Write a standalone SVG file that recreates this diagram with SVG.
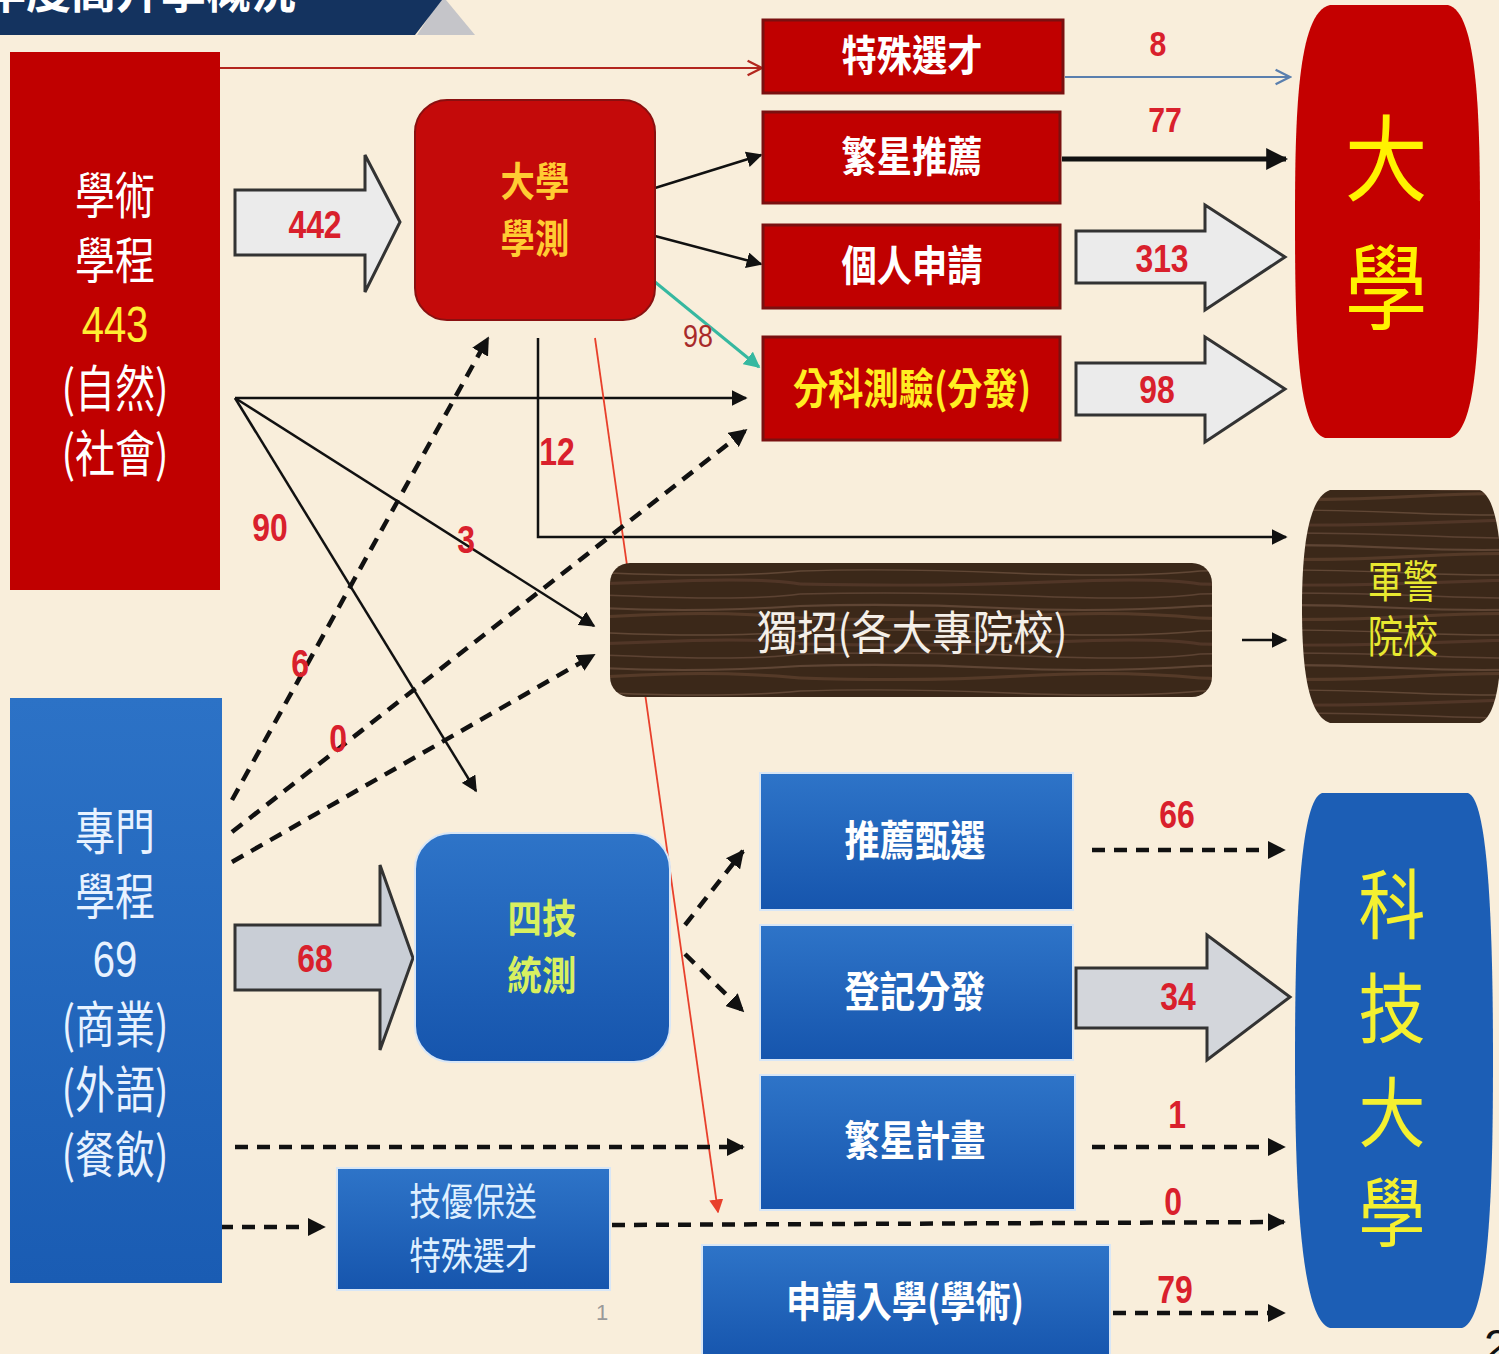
<svg xmlns="http://www.w3.org/2000/svg" width="1499" height="1354" viewBox="0 0 1499 1354">
<style>
.cjk{font-family:"Noto Sans CJK TC","Noto Sans CJK SC",sans-serif;text-anchor:middle}
.num{font-family:"Liberation Sans Narrow","Liberation Sans",sans-serif;font-weight:bold;fill:#d9202c;text-anchor:middle}
.lat{font-family:"Liberation Sans",sans-serif}
.blk{stroke:#111;stroke-width:2.5;fill:none}
.dash{stroke:#111;stroke-width:4.5;stroke-dasharray:13 9;fill:none}
.big{fill:#ebebeb;stroke:#333;stroke-width:3}
.redbox{fill:#c00000;stroke:#7a1010;stroke-width:3}
.bluebox{fill:url(#bg);stroke:#d8e6f6;stroke-width:2}
</style>
<defs>
<linearGradient id="bg" x1="0" y1="0" x2="0" y2="1"><stop offset="0" stop-color="#2e74c8"/><stop offset="1" stop-color="#1655ad"/></linearGradient>
<linearGradient id="bg2" x1="0" y1="0" x2="0" y2="1"><stop offset="0" stop-color="#2c72c6"/><stop offset="1" stop-color="#1a5cb3"/></linearGradient>
<pattern id="wood" width="400" height="60" patternUnits="userSpaceOnUse">
<rect width="400" height="60" fill="#3b2819"/>
<path d="M0 6 Q100 3 200 8 T400 6" stroke="#6e5140" stroke-width="2" fill="none" opacity="0.7"/>
<path d="M0 18 Q120 22 220 16 T400 18" stroke="#5b3f2c" stroke-width="3" fill="none" opacity="0.8"/>
<path d="M0 31 Q90 28 210 33 T400 31" stroke="#7a5b47" stroke-width="1.5" fill="none" opacity="0.6"/>
<path d="M0 44 Q140 47 250 42 T400 44" stroke="#56392a" stroke-width="3" fill="none" opacity="0.8"/>
<path d="M0 54 Q110 51 230 56 T400 54" stroke="#715343" stroke-width="1.5" fill="none" opacity="0.6"/>
</pattern>
<marker id="ab" viewBox="0 0 10 10" refX="9" refY="5" markerWidth="16" markerHeight="16" markerUnits="userSpaceOnUse" orient="auto"><path d="M0 0L10 5L0 10Z" fill="#111"/></marker>
<marker id="abL" viewBox="0 0 10 10" refX="9" refY="5" markerWidth="22" markerHeight="22" markerUnits="userSpaceOnUse" orient="auto"><path d="M0 0L10 5L0 10Z" fill="#111"/></marker>
<marker id="ad" viewBox="0 0 10 10" refX="9" refY="5" markerWidth="18" markerHeight="18" markerUnits="userSpaceOnUse" orient="auto"><path d="M0 0L10 5L0 10Z" fill="#111"/></marker>
<marker id="at" viewBox="0 0 10 10" refX="9" refY="5" markerWidth="16" markerHeight="16" markerUnits="userSpaceOnUse" orient="auto"><path d="M0 0L10 5L0 10Z" fill="#36b8a0"/></marker>
<marker id="ar" viewBox="0 0 10 10" refX="9" refY="5" markerWidth="14" markerHeight="14" markerUnits="userSpaceOnUse" orient="auto"><path d="M0 0L10 5L0 10Z" fill="#e8402c"/></marker>
<marker id="aor" viewBox="0 0 10 10" refX="9" refY="5" markerWidth="18" markerHeight="18" markerUnits="userSpaceOnUse" orient="auto"><path d="M1 1L9 5L1 9" fill="none" stroke="#b3261e" stroke-width="1.3"/></marker>
<marker id="aob" viewBox="0 0 10 10" refX="9" refY="5" markerWidth="18" markerHeight="18" markerUnits="userSpaceOnUse" orient="auto"><path d="M1 1L9 5L1 9" fill="none" stroke="#5a7fae" stroke-width="1.3"/></marker>
</defs>

<rect width="1499" height="1354" fill="#f9eedb"/>

<g id="banner">
<polygon points="417,35 475,35 446,0 440,0" fill="#c5c5c9"/>
<polygon points="0,0 442,0 415,35 0,35" fill="#14335f"/>
<text transform="translate(296 8) scale(0.9 1)" class="cjk" style="text-anchor:end;font-size:50px;font-weight:bold" fill="#ffffff">年度高升學概況</text>
</g>

<g id="connectors">
<line x1="220" y1="68" x2="762" y2="68" stroke="#b3261e" stroke-width="1.8" marker-end="url(#aor)"/>
<line x1="1065" y1="77" x2="1290" y2="77" stroke="#5a7fae" stroke-width="1.8" marker-end="url(#aob)"/>
<line x1="1062" y1="159" x2="1286" y2="159" stroke="#111" stroke-width="5" marker-end="url(#abL)"/>
<line x1="655" y1="188" x2="761" y2="155" class="blk" marker-end="url(#ab)"/>
<line x1="655" y1="236" x2="761" y2="264" class="blk" marker-end="url(#ab)"/>
<line x1="655" y1="282" x2="759" y2="367" stroke="#36b8a0" stroke-width="3" marker-end="url(#at)"/>
<line x1="235" y1="398" x2="746" y2="398" class="blk" marker-end="url(#ab)"/>
<line x1="235" y1="398" x2="594" y2="626" class="blk" marker-end="url(#ab)"/>
<line x1="235" y1="398" x2="476" y2="791" class="blk" marker-end="url(#ab)"/>
<polyline points="538,338 538,537 1286,537" class="blk" marker-end="url(#ab)"/>
<line x1="595" y1="338" x2="718" y2="1212" stroke="#e8402c" stroke-width="1.8" marker-end="url(#ar)"/>
<line x1="232" y1="800" x2="488" y2="338" class="dash" marker-end="url(#ad)"/>
<line x1="232" y1="832" x2="746" y2="430" class="dash" marker-end="url(#ad)"/>
<line x1="232" y1="862" x2="594" y2="655" class="dash" marker-end="url(#ad)"/>
<line x1="685" y1="925" x2="743" y2="851" class="dash" marker-end="url(#ad)"/>
<line x1="685" y1="954" x2="743" y2="1011" class="dash" marker-end="url(#ad)"/>
<line x1="235" y1="1147" x2="743" y2="1147" class="dash" marker-end="url(#ad)"/>
<line x1="220" y1="1227" x2="324" y2="1227" class="dash" marker-end="url(#ad)"/>
<line x1="612" y1="1225" x2="1284" y2="1222" class="dash" marker-end="url(#ad)"/>
<line x1="1092" y1="850" x2="1284" y2="850" class="dash" marker-end="url(#ad)"/>
<line x1="1092" y1="1147" x2="1284" y2="1147" class="dash" marker-end="url(#ad)"/>
<line x1="1113" y1="1313" x2="1284" y2="1313" class="dash" marker-end="url(#ad)"/>
<line x1="1242" y1="640" x2="1286" y2="640" class="blk" marker-end="url(#ab)"/>
<polygon points="235,190 365,190 365,155 400,222 365,292 365,255 235,255" class="big"/>
<polygon points="235,925 380,925 380,865 413,958 380,1050 380,990 235,990" class="big" style="fill:#c9ced6"/>
<polygon points="1076,231 1205,231 1205,205 1285,257 1205,310 1205,283 1076,283" class="big"/>
<polygon points="1076,363 1205,363 1205,337 1285,389 1205,442 1205,415 1076,415" class="big"/>
<polygon points="1076,968 1207,968 1207,935 1290,997 1207,1060 1207,1028 1076,1028" class="big" style="fill:#d3d6db"/>
<text transform="translate(315 238) scale(0.84 1)" class="num" font-size="38">442</text>
<text transform="translate(315 972) scale(0.84 1)" class="num" font-size="38">68</text>
<text transform="translate(1162 272) scale(0.84 1)" class="num" font-size="38">313</text>
<text transform="translate(1157 403) scale(0.84 1)" class="num" font-size="38">98</text>
<text transform="translate(1178 1010) scale(0.84 1)" class="num" font-size="38">34</text>
<text transform="translate(1158 56) scale(0.84 1)" class="num" font-size="36">8</text>
<text transform="translate(1165 132) scale(0.84 1)" class="num" font-size="36">77</text>
<text transform="translate(698 347) scale(0.84 1)" class="num" font-size="32" style="fill:#a82a2a;font-weight:normal">98</text>
<text transform="translate(557 465) scale(0.84 1)" class="num" font-size="38">12</text>
<text transform="translate(270 541) scale(0.84 1)" class="num" font-size="38">90</text>
<text transform="translate(466 553) scale(0.84 1)" class="num" font-size="38">3</text>
<text transform="translate(300 677) scale(0.84 1)" class="num" font-size="38">6</text>
<text transform="translate(338 752) scale(0.84 1)" class="num" font-size="38">0</text>
<text transform="translate(1177 828) scale(0.84 1)" class="num" font-size="38">66</text>
<text transform="translate(1177 1128) scale(0.84 1)" class="num" font-size="38">1</text>
<text transform="translate(1173 1215) scale(0.84 1)" class="num" font-size="38">0</text>
<text transform="translate(1175 1303) scale(0.84 1)" class="num" font-size="38">79</text>
</g>

<g id="academic">
<rect x="10" y="52" width="210" height="538" fill="#c00000"/>
<g class="cjk" font-size="50" fill="#ffffff">
<text transform="translate(115 214) scale(0.8 1)">學術</text>
<text transform="translate(115 279) scale(0.8 1)">學程</text>
<text transform="translate(115 342) scale(0.8 1)" fill="#ffee33" class="lat">443</text>
<text transform="translate(115 407) scale(0.8 1)">(自然)</text>
<text transform="translate(115 472) scale(0.8 1)">(社會)</text>
</g>
</g>

<g id="vocational">
<rect x="10" y="698" width="212" height="585" fill="url(#bg2)"/>
<g class="cjk" font-size="50" fill="#e8f2ff">
<text transform="translate(115 850) scale(0.8 1)">專門</text>
<text transform="translate(115 915) scale(0.8 1)">學程</text>
<text transform="translate(115 977) scale(0.8 1)" class="lat">69</text>
<text transform="translate(115 1043) scale(0.8 1)">(商業)</text>
<text transform="translate(115 1108) scale(0.8 1)">(外語)</text>
<text transform="translate(115 1173) scale(0.8 1)">(餐飲)</text>
</g>
</g>

<g id="gsat">
<rect x="415" y="100" width="240" height="220" rx="32" fill="#c40a0a" stroke="#8a1010" stroke-width="2"/>
<text transform="translate(535 196) scale(0.86 1)" class="cjk" font-size="40" font-weight="bold" fill="#ffcc33">大學</text>
<text transform="translate(535 253) scale(0.86 1)" class="cjk" font-size="40" font-weight="bold" fill="#ffcc33">學測</text>
</g>

<g id="tvet">
<rect x="415" y="833" width="255" height="229" rx="36" fill="url(#bg)" stroke="#d8e6f6" stroke-width="2"/>
<text transform="translate(542 933) scale(0.86 1)" class="cjk" font-size="40" font-weight="bold" fill="#d8f060">四技</text>
<text transform="translate(542 990) scale(0.86 1)" class="cjk" font-size="40" font-weight="bold" fill="#d8f060">統測</text>
</g>

<g id="special">
<rect x="763" y="20" width="300" height="73" class="redbox"/>
<text transform="translate(912 71) scale(0.84 1)" class="cjk" font-size="42" font-weight="bold" fill="#ffffff">特殊選才</text>
</g>
<g id="star">
<rect x="763" y="112" width="297" height="91" class="redbox"/>
<text transform="translate(912 172) scale(0.84 1)" class="cjk" font-size="42" font-weight="bold" fill="#ffffff">繁星推薦</text>
</g>
<g id="personal">
<rect x="763" y="225" width="297" height="83" class="redbox"/>
<text transform="translate(912 281) scale(0.84 1)" class="cjk" font-size="42" font-weight="bold" fill="#ffffff">個人申請</text>
</g>
<g id="subject">
<rect x="763" y="337" width="297" height="103" class="redbox"/>
<text transform="translate(912 404) scale(0.84 1)" class="cjk" font-size="42" font-weight="bold" fill="#ffee22">分科測驗(分發)</text>
</g>

<g id="independent">
<rect x="610" y="563" width="602" height="134" rx="20" fill="url(#wood)"/>
<text transform="translate(912 649) scale(0.88 1)" class="cjk" font-size="46" fill="#f4efe8">獨招(各大專院校)</text>
</g>

<g id="recommend">
<rect x="760" y="773" width="313" height="137" class="bluebox"/>
<text transform="translate(915 856) scale(0.84 1)" class="cjk" font-size="42" font-weight="bold" fill="#ffffff">推薦甄選</text>
</g>
<g id="register">
<rect x="760" y="925" width="313" height="135" class="bluebox"/>
<text transform="translate(915 1007) scale(0.84 1)" class="cjk" font-size="42" font-weight="bold" fill="#ffffff">登記分發</text>
</g>
<g id="starplan">
<rect x="760" y="1075" width="315" height="135" class="bluebox"/>
<text transform="translate(915 1156) scale(0.84 1)" class="cjk" font-size="42" font-weight="bold" fill="#ffffff">繁星計畫</text>
</g>
<g id="apply">
<rect x="702" y="1245" width="408" height="115" class="bluebox"/>
<text transform="translate(905 1317) scale(0.84 1)" class="cjk" font-size="42" font-weight="bold" fill="#ffffff">申請入學(學術)</text>
</g>
<g id="skill">
<rect x="337" y="1168" width="273" height="122" class="bluebox"/>
<text transform="translate(473 1215) scale(0.84 1)" class="cjk" font-size="38" fill="#dff0ff">技優保送</text>
<text transform="translate(473 1269) scale(0.84 1)" class="cjk" font-size="38" fill="#dff0ff">特殊選才</text>
</g>

<g id="university">
<path d="M1330,5 L1448,5 C1478,12 1480,120 1480,220 C1480,330 1478,430 1450,438 L1325,438 C1297,430 1295,330 1295,220 C1295,120 1297,12 1330,5 Z" fill="#c40000"/>
<text transform="translate(1386 194) scale(0.88 1)" class="cjk" font-size="94" fill="#fff200">大</text>
<text transform="translate(1386 323) scale(0.88 1)" class="cjk" font-size="94" fill="#fff200">學</text>
</g>

<g id="military">
<path d="M1330,490 L1480,490 C1500,500 1502,560 1502,607 C1502,660 1500,715 1480,723 L1330,723 C1306,715 1302,660 1302,607 C1302,560 1306,498 1330,490 Z" fill="url(#wood)"/>
<text transform="translate(1403 598) scale(0.8 1)" class="cjk" font-size="44" fill="#e8e830">軍警</text>
<text transform="translate(1403 653) scale(0.8 1)" class="cjk" font-size="44" fill="#e8e830">院校</text>
</g>

<g id="techuni">
<path d="M1322,793 L1468,793 C1490,800 1493,950 1493,1060 C1493,1180 1490,1320 1462,1328 L1330,1328 C1300,1320 1295,1180 1295,1060 C1295,950 1298,800 1322,793 Z" fill="#1c5eb5"/>
<g class="cjk" font-size="76" fill="#f4f030">
<text transform="translate(1392 933) scale(0.88 1)">科</text>
<text transform="translate(1392 1037) scale(0.88 1)">技</text>
<text transform="translate(1392 1141) scale(0.88 1)">大</text>
<text transform="translate(1392 1241) scale(0.88 1)">學</text>
</g>
</g>

<text x="596" y="1320" font-family="Liberation Sans, sans-serif" font-size="22" fill="#999">1</text>
<text x="1484" y="1362" font-family="Liberation Sans, sans-serif" font-size="46" fill="#111">2</text>
</svg>
